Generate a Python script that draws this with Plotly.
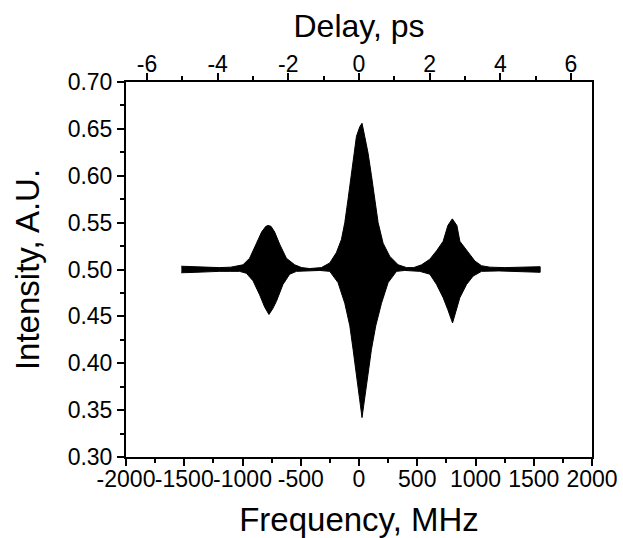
import plotly.graph_objects as go

# Envelope of the dense interference fringes
upper_freq = [-1525, -1400, -1200, -1100, -1053, -996, -939, -881, -836, -800, -780, -755, -724, -681, -623,
              -552, -492, -423, -323, -251, -194, -151, -122, -94, -65, -43, -22, 6, 26, 49, 78, 107, 135,
              164, 207, 264, 336, 408, 470, 537, 608, 666, 722, 763, 801, 840, 866, 937, 995, 1052, 1124,
              1250, 1400, 1555]
upper_int = [0.5035, 0.503, 0.502, 0.5025, 0.504, 0.505, 0.512, 0.527, 0.540, 0.546, 0.547, 0.546, 0.540,
             0.527, 0.512, 0.505, 0.502, 0.501, 0.502, 0.507, 0.518, 0.532, 0.550, 0.575, 0.600, 0.624,
             0.642, 0.652, 0.656, 0.642, 0.624, 0.600, 0.575, 0.550, 0.528, 0.514, 0.505, 0.502, 0.502,
             0.505, 0.511, 0.520, 0.530, 0.547, 0.554, 0.547, 0.530, 0.518, 0.509, 0.504, 0.5025, 0.502,
             0.5025, 0.503]

lower_freq = [-1525, -1400, -1200, -1100, -1025, -967, -910, -853, -810, -773, -741, -709, -653, -595, -537,
              -337, -251, -180, -122, -79, -51, -22, 6, 26, 49, 78, 107, 144, 193, 250, 322, 393, 522, 608,
              666, 722, 763, 803, 831, 866, 923, 980, 1052, 1200, 1400, 1555]
lower_int = [0.4965, 0.497, 0.498, 0.498, 0.498, 0.496, 0.488, 0.473, 0.460, 0.452, 0.458, 0.466, 0.484,
             0.495, 0.498, 0.499, 0.498, 0.486, 0.464, 0.440, 0.415, 0.390, 0.361, 0.342, 0.361, 0.390,
             0.415, 0.440, 0.464, 0.486, 0.498, 0.499, 0.498, 0.495, 0.484, 0.470, 0.457, 0.443, 0.455,
             0.470, 0.484, 0.493, 0.498, 0.4985, 0.4975, 0.497]

freq_ticks = [-2000, -1500, -1000, -500, 0, 500, 1000, 1500, 2000]
freq_labels = ["-2000", "-1500", "-1000", "-500", "0", "500", "1000", "1500", "2000"]
delay_ticks = [-6, -4, -2, 0, 2, 4, 6]
delay_labels = ["-6", "-4", "-2", "0", "2", "4", "6"]
int_ticks = [0.30, 0.35, 0.40, 0.45, 0.50, 0.55, 0.60, 0.65, 0.70]
int_labels = ["0.30", "0.35", "0.40", "0.45", "0.50", "0.55", "0.60", "0.65", "0.70"]

MHZ_PER_PS = 303.3
freq_range = [-2000, 2000]
int_range = [0.30, 0.70]

band_x = upper_freq + lower_freq[::-1]
band_y = upper_int + lower_int[::-1]

FONT = "Liberation Sans, Arial, sans-serif"

fig = go.Figure()
fig.add_trace(go.Scatter(x=band_x, y=band_y, mode="lines", fill="toself",
                         fillcolor="black", line=dict(color="black", width=1),
                         hoverinfo="skip", showlegend=False))
# invisible trace to anchor the top (delay) axis
fig.add_trace(go.Scatter(x=[freq_range[0] / MHZ_PER_PS, freq_range[1] / MHZ_PER_PS], y=[0.5, 0.5],
                         xaxis="x2", mode="markers", marker=dict(opacity=0), hoverinfo="skip",
                         showlegend=False))

axis_common = dict(showline=True, linecolor="black", linewidth=2, ticks="outside", ticklen=7,
                   tickwidth=2, tickcolor="black", showgrid=False, zeroline=False,
                   automargin=False, tickangle=0, tickmode="array",
                   tickfont=dict(family=FONT, size=23, color="black"))

fig.update_layout(
    width=623, height=538,
    margin=dict(l=126, r=31, t=82, b=81),
    paper_bgcolor="white", plot_bgcolor="white",
    xaxis=dict(range=freq_range, tickvals=freq_ticks, ticktext=freq_labels, ticklabelstandoff=-7,
               minor=dict(tickmode="linear", tick0=0, dtick=250, ticklen=4, tickwidth=2,
                          tickcolor="black", ticks="outside"),
               title=dict(text="Frequency, MHz", font=dict(family=FONT, size=33, color="black"),
                          standoff=18),
               **axis_common),
    xaxis2=dict(overlaying="x", side="top",
                range=[freq_range[0] / MHZ_PER_PS, freq_range[1] / MHZ_PER_PS],
                tickvals=delay_ticks, ticktext=delay_labels, ticklabelstandoff=-8,
                minor=dict(tickmode="linear", tick0=0, dtick=1, ticklen=4, tickwidth=2,
                           tickcolor="black", ticks="outside"),
                title=dict(text="Delay, ps", font=dict(family=FONT, size=32, color="black"),
                           standoff=4),
                **axis_common),
    yaxis=dict(range=int_range, tickvals=int_ticks, ticktext=int_labels, mirror=True,
               minor=dict(tickmode="linear", tick0=0.3, dtick=0.025, ticklen=4, tickwidth=2,
                          tickcolor="black", ticks="outside"),
               title=dict(text="Intensity, A.U.", font=dict(family=FONT, size=33, color="black"),
                          standoff=18),
               **axis_common),
)

fig.write_html("out.html")
